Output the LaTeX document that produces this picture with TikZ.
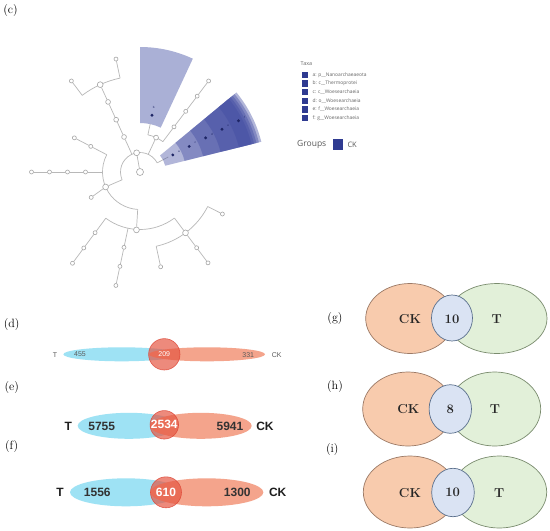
\documentclass[tikz,border=0pt]{standalone}
\usepackage{fontspec}
\usetikzlibrary{shapes.geometric}
\newfontfamily\lsans{Liberation Sans}
\newfontfamily\osans{Open Sans}
\definecolor{edgegray}{HTML}{B8B8B8}
\definecolor{nodegray}{HTML}{A5A5A5}
\definecolor{secA}{HTML}{AAB0D6}
\definecolor{secB}{HTML}{3F4AA0}
\definecolor{dotc}{HTML}{1E2565}
\definecolor{legc}{HTML}{2F3B91}
\definecolor{legtxt}{HTML}{666666}
\definecolor{vblue}{HTML}{9EE2F4}
\definecolor{vorange}{HTML}{F4A48C}
\definecolor{vred}{HTML}{E5533F}
\definecolor{vredline}{HTML}{DD4434}
\definecolor{numgray}{HTML}{333333}
\definecolor{pkor}{HTML}{F8CBAD}
\definecolor{pkorl}{HTML}{9C7A66}
\definecolor{pkgr}{HTML}{E2F0D9}
\definecolor{pkgrl}{HTML}{7A8C6E}
\definecolor{pkbl}{HTML}{DAE3F3}
\definecolor{pkbll}{HTML}{5A6F8C}
\pgfdeclarelayer{back}
\pgfdeclarelayer{bg}
\pgfsetlayers{back,bg,main}
\newcommand\annsec[5]{\fill[#1] (#2:#4pt) arc[start angle=#2,end angle=#3,radius=#4pt] -- (#3:#5pt) arc[start angle=#3,end angle=#2,radius=#5pt] -- cycle;}
\tikzset{
  edge/.style={draw=edgegray, line width=0.7pt},
  leaf/.style={circle, draw=nodegray, fill=white, line width=0.6pt, inner sep=0pt, minimum size=4pt},
  midn/.style={leaf, minimum size=5.8pt},
  bign/.style={leaf, minimum size=7pt},
  tdot/.style={circle, fill=dotc, inner sep=0pt, minimum size=3.2pt},
  tlab/.style={inner sep=0pt, text=dotc, font=\lsans\fontsize{3}{3}\selectfont},
  panel/.style={inner sep=0pt, font=\fontsize{12}{14}\selectfont},
  legsq/.style={fill=legc, draw=none, inner sep=0pt, minimum size=6.4pt},
  legtx/.style={anchor=west, inner sep=0pt, text=legtxt, font=\osans\fontsize{4.9}{5.5}\selectfont},
  vb/.style={ellipse, fill=vblue, draw=none, inner sep=0pt},
  vo/.style={ellipse, fill=vorange, draw=none, inner sep=0pt},
  vc/.style={circle, fill=vred, fill opacity=0.68, draw=vredline, draw opacity=0.8, line width=0.6pt, inner sep=0pt, text opacity=1, text=white},
  dtxt/.style={inner sep=0pt, text=numgray!80, font=\lsans\fontsize{7}{8}\selectfont},
  etxt/.style={inner sep=0pt, text=numgray, font=\lsans\bfseries\fontsize{12}{14}\selectfont},
  po/.style={ellipse, fill=pkor, draw=pkorl, line width=0.7pt, inner sep=0pt},
  pg/.style={ellipse, fill=pkgr, draw=pkgrl, line width=0.7pt, inner sep=0pt},
  pb/.style={ellipse, fill=pkbl, draw=pkbll, line width=0.7pt, inner sep=0pt},
  ptxt/.style={inner sep=0pt, text=black!85, font=\bfseries\fontsize{13}{15}\selectfont}
}
\begin{document}
\begin{tikzpicture}[x=1pt,y=-1pt]
\useasboundingbox (0,0) rectangle (550,531);
\begin{pgfonlayer}{back}
\fill[white] (0,0) rectangle (550,531);
\end{pgfonlayer}

% ---------------- (c) cladogram ----------------
\node[panel] (lc) at (10.5,11) {(c)};
\begin{scope}[shift={(140,172)}]
  % nodes
  \node[bign] (root) at (0:0pt) {};
  \node[midn] (A) at (100:19.5pt) {};
  \node[leaf, minimum size=4.8pt] (N1) at (65:38pt) {};
  \node[leaf, minimum size=4.8pt] (U1) at (114.5:38.5pt) {};
  \node[leaf, minimum size=4.8pt] (U2) at (114.5:57.5pt) {};
  \node[leaf, minimum size=4.8pt] (U3) at (114.5:77pt) {};
  \node[midn] (U4) at (114.5:96pt) {};
  \node[leaf] (U5) at (102:115.5pt) {};
  \node[leaf] (U6) at (127:114pt) {};
  \node[leaf] (R3) at (53:56.5pt) {};
  \node[leaf] (R4) at (53:76pt) {};
  \node[leaf] (R5) at (53:95pt) {};
  \node[leaf] (R6) at (53:114pt) {};
  \node[midn] (B) at (203.5:37.5pt) {};
  \node[leaf] (L1) at (152.5:55.5pt) {};
  \node[leaf] (L2) at (152.5:74pt) {};
  \node[leaf] (H3) at (180:54.5pt) {};
  \node[leaf] (H4) at (180:72.5pt) {};
  \node[leaf] (H5) at (180:90.5pt) {};
  \node[leaf] (H6) at (180:108.5pt) {};
  \node[leaf] (B7) at (207.5:55pt) {};
  \node[midn] (F) at (266.5:58pt) {};
  \node[leaf] (P1) at (233.5:75.5pt) {};
  \node[leaf] (P2) at (233.5:94.5pt) {};
  \node[leaf] (P3) at (233.5:113.5pt) {};
  \node[leaf] (S1) at (258:77pt) {};
  \node[leaf] (S2) at (258:96.5pt) {};
  \node[leaf] (S3) at (258:116pt) {};
  \node[midn] (G) at (306.8:76pt) {};
  \node[leaf] (Q1) at (282.3:97pt) {};
  \node[leaf] (Q2) at (306.8:94.6pt) {};
  \node[leaf] (Q3) at (306.8:113.5pt) {};
  \node[leaf] (Q4) at (333:92.5pt) {};
  % arc points
  \coordinate (a28) at (28:19.5pt);
  \coordinate (a28o) at (28:32pt);
  \coordinate (a65) at (65:19.5pt);
  \coordinate (a114) at (114.5:19.5pt);
  \coordinate (a204) at (203.5:19.5pt);
  \coordinate (b53) at (53:38pt);
  \coordinate (b78) at (78:38pt);
  \coordinate (b78o) at (78:55pt);
  \coordinate (c102) at (102:96pt);
  \coordinate (c127) at (127:96pt);
  \coordinate (d152) at (152.5:37.5pt);
  \coordinate (d180) at (180:37.5pt);
  \coordinate (d266) at (266.5:37.5pt);
  \coordinate (e234) at (233.5:57.5pt);
  \coordinate (e258) at (258:57.5pt);
  \coordinate (e306) at (306.8:57.5pt);
  \coordinate (f282) at (282.3:76pt);
  \coordinate (f333) at (333:76pt);
  \begin{pgfonlayer}{bg}
    \draw[edge] (a28) arc[start angle=28,end angle=203.5,radius=19.5pt];
    \draw[edge] (b53) arc[start angle=53,end angle=78,radius=38pt];
    \draw[edge] (c102) arc[start angle=102,end angle=127,radius=96pt];
    \draw[edge] (d152) arc[start angle=152.5,end angle=266.5,radius=37.5pt];
    \draw[edge] (e234) arc[start angle=233.5,end angle=306.8,radius=57.5pt];
    \draw[edge] (f282) arc[start angle=282.3,end angle=333,radius=76pt];
    \draw[edge] (root) -- (A);
    \draw[edge] (a28) -- (a28o);
    \draw[edge] (a65) -- (N1);
    \draw[edge] (a114) -- (U1) -- (U2) -- (U3) -- (U4);
    \draw[edge] (a204) -- (B);
    \draw[edge] (b78) -- (b78o);
    \draw[edge] (b53) -- (R3) -- (R4) -- (R5) -- (R6);
    \draw[edge] (c102) -- (U5);
    \draw[edge] (c127) -- (U6);
    \draw[edge] (d152) -- (L1) -- (L2);
    \draw[edge] (d180) -- (H3) -- (H4) -- (H5) -- (H6);
    \draw[edge] (B) -- (B7);
    \draw[edge] (d266) -- (F);
    \draw[edge] (e234) -- (P1) -- (P2) -- (P3);
    \draw[edge] (e258) -- (S1) -- (S2) -- (S3);
    \draw[edge] (e306) -- (G);
    \draw[edge] (f282) -- (Q1);
    \draw[edge] (G) -- (Q2) -- (Q3);
    \draw[edge] (f333) -- (Q4);
  \end{pgfonlayer}
  % shaded clades
  \annsec{secA}{65}{90}{49}{125}
  \annsec{secB,fill opacity=0.4}{14}{39.5}{26}{125}
  \annsec{secB,fill opacity=0.4}{14}{39.5}{46}{122.5}
  \annsec{secB,fill opacity=0.4}{14}{39.5}{65}{120}
  \annsec{secB,fill opacity=0.4}{14}{39.5}{83}{117.5}
  \annsec{secB,fill opacity=0.4}{14}{39.5}{102}{115}
  \node[tdot] (Da) at (78:58pt) {};
  \node[tlab] (Ta) at (78:66pt) {b};
  \node[tdot] (D1) at (27.5:37pt) {};
  \node[tlab] (T1) at (27.5:44pt) {a};
  \node[tdot] (D2) at (27.5:55.5pt) {};
  \node[tlab] (T2) at (27.5:62.5pt) {c};
  \node[tdot] (D3) at (27.5:74pt) {};
  \node[tlab] (T3) at (27.5:81pt) {d};
  \node[tdot] (D4) at (27.5:92.5pt) {};
  \node[tlab] (T4) at (27.5:99.5pt) {e};
  \node[tdot] (D5) at (27.5:111pt) {};
  \node[tlab] (T5) at (27.5:118pt) {f};
\end{scope}

% legend
\node[anchor=west, inner sep=0pt, text=legtxt, font=\osans\fontsize{5.4}{6}\selectfont] (taxa) at (300.5,64) {Taxa};
\node[legsq] (s1) at (305,75) {};
\node[legsq] (s2) at (305,83.6) {};
\node[legsq] (s3) at (305,92.2) {};
\node[legsq] (s4) at (305,100.8) {};
\node[legsq] (s5) at (305,109.3) {};
\node[legsq] (s6) at (305,117.8) {};
\node[legtx] (t1) at (312.5,75) {a: p\_\_Nanoarchaeaeota};
\node[legtx] (t2) at (312.5,83.6) {b: c\_\_Thermoprotei};
\node[legtx] (t3) at (312.5,92.2) {c: c\_\_Woesearchaeia};
\node[legtx] (t4) at (312.5,100.8) {d: o\_\_Woesearchaeia};
\node[legtx] (t5) at (312.5,109.3) {e: f\_\_Woesearchaeia};
\node[legtx] (t6) at (312.5,117.8) {f: g\_\_Woesearchaeia};
\node[anchor=west, inner sep=0pt, text=black!65, font=\osans\fontsize{8.5}{10}\selectfont] (grp) at (297,144.5) {Groups};
\node[fill=legc, inner sep=0pt, minimum size=10.6pt] (gsq) at (338,144.6) {};
\node[anchor=west, inner sep=0pt, text=black!65, font=\osans\fontsize{7.5}{9}\selectfont] (gck) at (347.3,144.6) {CK};

% ---------------- (d) ----------------
\node[panel] (ld) at (11.7,324.7) {(d)};
\node[vb, minimum width=116.7pt, minimum height=14pt] (dT) at (121.7,354.3) {};
\node[vo, minimum width=116pt, minimum height=14pt] (dCK) at (207,354.3) {};
\node[vc, minimum size=31.4pt, font=\lsans\fontsize{7}{8}\selectfont] (dI) at (164.3,354.3) {209};
\node[dtxt] (dTl) at (55,354.6) {T};
\node[dtxt] (dTn) at (80,354.6) {455};
\node[dtxt] (dCn) at (248.3,354.6) {331};
\node[dtxt] (dCl) at (276.7,354.6) {CK};

% ---------------- (e) ----------------
\node[panel] (le) at (11.7,388) {(e)};
\node[vb, minimum width=102.3pt, minimum height=26pt] (eT) at (128.85,425.8) {};
\node[vo, minimum width=101.7pt, minimum height=26pt] (eCK) at (200.85,425.8) {};
\node[vc, minimum size=28.5pt, font=\lsans\bfseries\fontsize{12}{14}\selectfont] (eI) at (164.3,424.8) {2534};
\node[etxt, text=black!88] (eTl) at (68.3,426) {T};
\node[etxt] (eTn) at (101.7,426) {5755};
\node[etxt] (eCn) at (230,426) {5941};
\node[etxt, text=black!88] (eCl) at (265,426) {CK};

% ---------------- (f) ----------------
\node[panel] (lf) at (11.7,446.7) {(f)};
\node[vb, minimum width=112pt, minimum height=28pt] (fT) at (126,492.3) {};
\node[vo, minimum width=113.3pt, minimum height=28pt] (fCK) at (206.7,492.3) {};
\node[vc, minimum size=31pt, font=\lsans\bfseries\fontsize{12}{14}\selectfont] (fI) at (166,492.3) {610};
\node[etxt, text=black!88] (fTl) at (60,492.5) {T};
\node[etxt] (fTn) at (97.3,492.5) {1556};
\node[etxt] (fCn) at (237.3,492.5) {1300};
\node[etxt, text=black!88] (fCl) at (277.7,492.5) {CK};

% ---------------- (g) ----------------
\node[panel] (lg) at (335,318.3) {(g)};
\node[pg, minimum width=100pt, minimum height=70pt] (gT) at (497,318.5) {};
\node[po, minimum width=88.6pt, minimum height=70pt] (gCK) at (410,318.5) {};
\node[pb, minimum width=41pt, minimum height=46pt] (gI) at (452,318) {};
\node[ptxt] (gCKt) at (410,319.3) {CK};
\node[ptxt] (gIt) at (452,319.3) {10};
\node[ptxt] (gTt) at (496.7,319.3) {T};

% ---------------- (h) ----------------
\node[panel] (lh) at (335,387) {(h)};
\node[pg, minimum width=92pt, minimum height=74pt] (hT) at (494.7,409) {};
\node[po, minimum width=90.6pt, minimum height=74pt] (hCK) at (408,409) {};
\node[pb, minimum width=42.4pt, minimum height=48.6pt] (hI) at (450.3,409) {};
\node[ptxt] (hCKt) at (408.3,409.3) {CK};
\node[ptxt] (hIt) at (450.3,409.3) {8};
\node[ptxt] (hTt) at (495,409.3) {T};

% ---------------- (i) ----------------
\node[panel] (li) at (332.3,450) {(i)};
\node[pg, minimum width=94.8pt, minimum height=72pt] (iT) at (499.3,492) {};
\node[po, minimum width=93.4pt, minimum height=72pt] (iCK) at (410,492) {};
\node[pb, minimum width=42.6pt, minimum height=48.4pt] (iI) at (453,492.5) {};
\node[ptxt] (iCKt) at (410,492.7) {CK};
\node[ptxt] (iIt) at (452.7,492.7) {10};
\node[ptxt] (iTt) at (499.3,492.7) {T};
\end{tikzpicture}
\end{document}
